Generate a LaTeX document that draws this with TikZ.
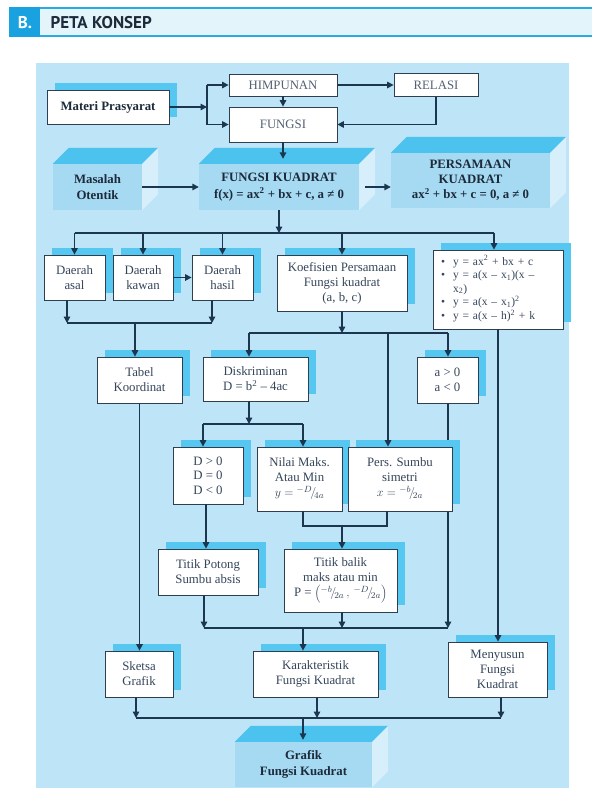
\documentclass[tikz,border=0pt]{standalone}
\usepackage{fontspec}
\setmainfont{Liberation Serif}
\newfontfamily\hdrfont{PT Sans}
\usetikzlibrary{arrows.meta,shadows}
\definecolor{panelc}{HTML}{BDE4F7}
\definecolor{shc}{HTML}{55C7F0}
\definecolor{topc}{HTML}{4CC3EE}
\definecolor{frontc}{HTML}{A6DAF3}
\definecolor{sidec}{HTML}{D6EFFB}
\definecolor{linec}{HTML}{1D3650}
\definecolor{boxc}{HTML}{2F3F50}
\definecolor{txtc}{HTML}{35455A}
\definecolor{boldc}{HTML}{1C2A3A}
\definecolor{hdrbg}{HTML}{E3F4FB}
\definecolor{hdrline}{HTML}{2AAAE2}
\definecolor{hdrblue}{HTML}{1AA1E0}
\newcommand\cubefaces[1]{%
  \fill[topc] (#1.north west) -- ++(16,-16) -- ([shift={(16,-16)}]#1.north east) -- (#1.north east) -- cycle;
  \fill[sidec] (#1.north east) -- ++(16,-16) -- ([shift={(16,-16)}]#1.south east) -- (#1.south east) -- cycle;}
\tikzset{
  box/.style={draw=boxc, line width=0.8pt, fill=white, text=txtc, align=center, inner sep=1pt,
    font=\fontsize{12.8}{15}\selectfont},
  shbox/.style={box, general shadow={fill=shc, shadow xshift=8pt, shadow yshift=7pt}},
  sz/.style 2 args={minimum width=#1pt, minimum height=#2pt},
  cube/.style={fill=frontc, text=boldc, align=center, inner sep=0pt,
    font=\fontsize{12.8}{16.5}\selectfont\bfseries},
  ln/.style={draw=linec, line width=1.4pt},
  arr/.style={ln, -{Triangle[length=6.5pt,width=6.5pt]}},
}
\begin{document}
\begin{tikzpicture}[x=1pt,y=-1pt]
\useasboundingbox (0,0) rectangle (602,804);
% header
\fill[hdrbg] (9,7) rectangle (592,37);
\draw[hdrline, line width=1.6pt] (9,7.8) -- (592,7.8);
\draw[hdrline, line width=1.6pt] (9,36.2) -- (592,36.2);
\fill[hdrblue] (9,7) rectangle (40,37);
\node[text=white, font=\hdrfont\fontsize{17}{17}\selectfont\bfseries] (hb) at (25,22.5) {B.};
\node[anchor=west, text=boldc, font=\hdrfont\fontsize{17}{17}\selectfont\bfseries] (ht) at (47,22.5) {PETA KONSEP};
% panel
\fill[panelc] (36,63) rectangle (569,788);
% coordinates
\coordinate (jA) at (207,85); \coordinate (jB) at (207,124.5);
\coordinate (b1R) at (494,233); \coordinate (b1y) at (0,233);
\coordinate (b2L) at (67,323); \coordinate (b2R) at (212,323); \coordinate (b2M) at (135,323);
\coordinate (b3L) at (249,333); \coordinate (b3R) at (448,333); \coordinate (b3P) at (388,333);
\coordinate (b4L) at (203,424); \coordinate (b4R) at (303,424); \coordinate (b4D) at (249,424);
\coordinate (b5L) at (303,526); \coordinate (b5R) at (387,526); \coordinate (b5M) at (342,526);
\coordinate (b6L) at (204,628); \coordinate (b6R) at (448,628); \coordinate (b6T) at (342,628); \coordinate (b6K) at (303,628);
\coordinate (b7L) at (136,718); \coordinate (b7R) at (501,718); \coordinate (b7K) at (317,718); \coordinate (b7G) at (303,718);
\coordinate (cD) at (206,0);
% top nodes
\node[shbox, sz={122}{34}, text=boldc, font=\fontsize{12.8}{15}\selectfont\bfseries] (mp) at (108,107) {Materi Prasyarat};
\node[box, sz={108}{22}, text=txtc!85] (him) at (283,85) {HIMPUNAN};
\node[box, sz={108}{35}, text=txtc!85] (fun) at (283,124.5) {FUNGSI};
\node[box, sz={84}{23}, text=txtc!85] (rel) at (436,85) {RELASI};
% 3D boxes
\node[cube, sz={89}{46}] (mo) at (97.5,187) {Masalah\\Otentik};
\cubefaces{mo}
\node[cube, sz={160}{46}] (fk) at (279,187) {FUNGSI KUADRAT\\f(x) = ax\textsuperscript{2} + bx + c, a ≠ 0};
\cubefaces{fk}
\node[cube, sz={159}{55}, font=\fontsize{12.8}{15}\selectfont\bfseries] (pk) at (470.5,180.5) {PERSAMAAN\\KUADRAT\\ax\textsuperscript{2} + bx + c = 0, a ≠ 0};
\cubefaces{pk}
% row 2
\node[shbox, sz={61}{45}] (da) at (74.5,277.5) {Daerah\\asal};
\node[shbox, sz={60}{45}] (dk) at (143,277.5) {Daerah\\kawan};
\node[shbox, sz={61}{45}] (dh) at (222.5,277.5) {Daerah\\hasil};
\node[shbox, sz={130}{56}] (ko) at (342,283) {Koefisien Persamaan\\Fungsi kuadrat\\(a, b, c)};
\node[shbox, sz={130}{79}, text width=114pt, inner xsep=8pt, align=left,
  font=\fontsize{11.5}{13.5}\selectfont] (bul) at (498,289.5)
  {\begin{tabular}{@{}l@{\hspace{8pt}}l@{}}
   \textbullet & y = ax\textsuperscript{2} + bx + c\\
   \textbullet & y = a(x – x\textsubscript{1})(x –\\
               & x\textsubscript{2})\\
   \textbullet & y = a(x – x\textsubscript{1})\textsuperscript{2}\\
   \textbullet & y = a(x – h)\textsuperscript{2} + k
   \end{tabular}};
% row 3
\node[shbox, sz={85}{46}] (tk) at (139.5,380) {Tabel\\Koordinat};
\node[shbox, sz={105}{44}] (di) at (255.5,379) {Diskriminan\\D = b\textsuperscript{2} – 4ac};
\node[shbox, sz={61}{46}] (ap) at (447.5,380) {a > 0\\a < 0};
\draw[arr] (b6R |- ap.south) -- (b6R);
% row 4
\node[shbox, sz={70}{57}, font=\fontsize{12.8}{14.5}\selectfont] (dd) at (208,475.5) {D > 0\\D = 0\\D < 0};
\node[shbox, sz={85}{64}] (nm) at (299.5,479) {Nilai Maks.\\Atau Min\\$y = {}^{-D}\!/\!_{4a}$};
\node[shbox, sz={104}{64}] (ps) at (400,479) {Pers. Sumbu\\simetri\\$x = {}^{-b}\!/\!_{2a}$};
% row 5
\node[shbox, sz={100}{46}] (tp) at (208,572) {Titik Potong\\Sumbu absis};
\node[shbox, sz={113}{63}] (tb) at (340.5,580.5) {Titik balik\\maks atau min\\P = $\left({}^{-b}\!/\!_{2a}\,,\,{}^{-D}\!/\!_{2a}\right)$};
% row 6
\node[shbox, sz={68}{46}] (sg) at (139,674) {Sketsa\\Grafik};
\node[shbox, sz={125}{46}] (kf) at (315.5,674) {Karakteristik\\Fungsi Kuadrat};
\node[shbox, sz={99}{55}] (mf) at (497.5,669.5) {Menyusun\\Fungsi\\Kuadrat};
% bottom 3D
\node[cube, sz={137}{45}] (gf) at (303.5,764.5) {Grafik\\Fungsi Kuadrat};
\cubefaces{gf}
\coordinate (fkTop) at ([yshift=5pt]fk.north);
\coordinate (gfTop) at ([yshift=2pt]gf.north);
\coordinate (fkE) at ([xshift=6pt]fk.east);
% connectors top
\draw[arr] (mp.east) -- (mp.east -| jA);
\draw[ln] (jA) -- (jB);
\draw[arr] (jA) -- (him.west);
\draw[arr] (jB) -- (fun.west);
\draw[arr] (him.south) -- (fun.north);
\draw[arr] (him.east) -- (rel.west);
\draw[arr] (rel.south) |- (fun.east);
\draw[arr] (fun.south) -- (fun.south |- fkTop);
\draw[arr] (mo.east) -- (fk.west);
\draw[arr] (fkE) -- (fkE -| pk.west);
% bar 1
\draw[arr] (fk.south) -- (fk.south |- b1y);
\draw[ln] (da.north |- b1y) -- (b1R);
\draw[arr] (da.north |- b1y) -- (da.north);
\draw[arr] (dk.north |- b1y) -- (dk.north);
\draw[arr] (dh.north |- b1y) -- (dh.north);
\draw[arr] (ko.north |- b1y) -- (ko.north);
\draw[arr] (b1R) -- (b1R |- bul.north);
\draw[arr] (dk.east) -- (dh.west);
% bar 2
\draw[arr] (b2L |- da.south) -- (b2L);
\draw[arr] (b2R |- dh.south) -- (b2R);
\draw[ln] (b2L) -- (b2R);
\draw[arr] (b2M) -- (b2M |- tk.north);
% bar 3
\draw[arr] (ko.south) -- (ko.south |- b3L);
\draw[ln] (b3L) -- (b3R);
\draw[arr] (b3L) -- (b3L |- di.north);
\draw[arr] (b3R) -- (b3R |- ap.north);
\draw[arr] (b3P) -- (b3P |- ps.north);
\draw[arr] (bul.south) -- (bul.south |- mf.north);
% bar 4
\draw[arr] (b4D |- di.south) -- (b4D);
\draw[ln] (b4L) -- (b4R);
\draw[arr] (b4L) -- (b4L |- dd.north);
\draw[arr] (b4R) -- (b4R |- nm.north);
% bar 5
\draw[ln] (b5L |- nm.south) -- (b5L) -- (b5R) -- (b5R |- ps.south);
\draw[arr] (b5M) -- (b5M |- tb.north);
\draw[arr] (cD |- dd.south) -- (cD |- tp.north);
\draw[arr] (tk.south) -- (tk.south |- sg.north);
% bar 6
\draw[arr] (b6L |- tp.south) -- (b6L);
\draw[arr] (b6T |- tb.south) -- (b6T);
\draw[ln] (b6L) -- (b6R);
\draw[arr] (b6K) -- (b6K |- kf.north);
% bar 7
\draw[arr] (b7L |- sg.south) -- (b7L);
\draw[arr] (b7K |- kf.south) -- (b7K);
\draw[arr] (b7R |- mf.south) -- (b7R);
\draw[ln] (b7L) -- (b7R);
\draw[arr] (b7G) -- (b7G |- gfTop);
\end{tikzpicture}
\end{document}
